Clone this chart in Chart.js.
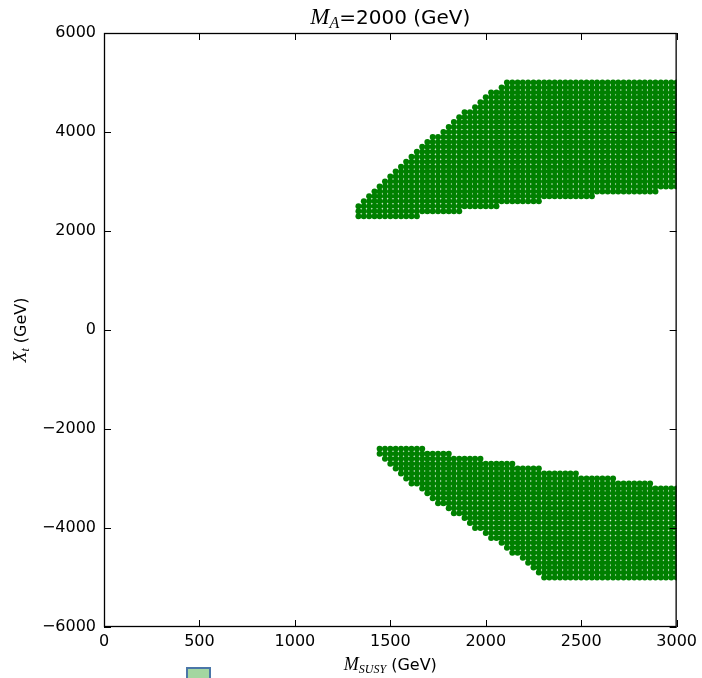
<!DOCTYPE html>
<html>
<head>
<meta charset="utf-8">
<script src="https://cdn.jsdelivr.net/npm/chart.js@4.4.1/dist/chart.umd.min.js"></script>
<style>
  html, body { margin: 0; padding: 0; background: #fff; }
</style>
</head>
<body>
<canvas id="myChart" width="702" height="678"></canvas>
<script>
// scan grid in M_SUSY (GeV), one column per value
const msusyGrid = [
  1333, 1361, 1389, 1417, 1444, 1472, 1500, 1528, 1556, 1583,
  1611, 1639, 1667, 1694, 1722, 1750, 1778, 1806, 1833, 1861,
  1889, 1917, 1944, 1972, 2000, 2028, 2056, 2083, 2111, 2139,
  2167, 2194, 2222, 2250, 2278, 2306, 2333, 2361, 2389, 2417,
  2444, 2472, 2500, 2528, 2556, 2583, 2611, 2639, 2667, 2694,
  2722, 2750, 2778, 2806, 2833, 2861, 2889, 2917, 2944, 2972,
  3000,
];
// X_t step of the scan (GeV)
const xtStep = 100;

// allowed X_t range per column, positive branch
const upperLow = [
  2300, 2300, 2300, 2300, 2300, 2300, 2300, 2300, 2300, 2300,
  2300, 2300, 2400, 2400, 2400, 2400, 2400, 2400, 2400, 2400,
  2500, 2500, 2500, 2500, 2500, 2500, 2500, 2600, 2600, 2600,
  2600, 2600, 2600, 2600, 2600, 2700, 2700, 2700, 2700, 2700,
  2700, 2700, 2700, 2700, 2700, 2800, 2800, 2800, 2800, 2800,
  2800, 2800, 2800, 2800, 2800, 2800, 2800, 2900, 2900, 2900,
  2900,
];
const upperHigh = [
  2500, 2600, 2700, 2800, 2900, 3000, 3100, 3200, 3300, 3400,
  3500, 3600, 3700, 3800, 3900, 3900, 4000, 4100, 4200, 4300,
  4400, 4400, 4500, 4600, 4700, 4800, 4800, 4900, 5000, 5000,
  5000, 5000, 5000, 5000, 5000, 5000, 5000, 5000, 5000, 5000,
  5000, 5000, 5000, 5000, 5000, 5000, 5000, 5000, 5000, 5000,
  5000, 5000, 5000, 5000, 5000, 5000, 5000, 5000, 5000, 5000,
  5000,
];

// negative branch (null = no allowed point in that column)
const lowerLow = [
  null, null, null, null, -2500, -2600, -2700, -2800, -2900, -3000,
  -3100, -3100, -3200, -3300, -3400, -3500, -3500, -3600, -3700, -3700,
  -3800, -3900, -4000, -4000, -4100, -4200, -4200, -4300, -4400, -4500,
  -4500, -4600, -4700, -4800, -4900, -5000, -5000, -5000, -5000, -5000,
  -5000, -5000, -5000, -5000, -5000, -5000, -5000, -5000, -5000, -5000,
  -5000, -5000, -5000, -5000, -5000, -5000, -5000, -5000, -5000, -5000,
  -5000,
];
const lowerHigh = [
  null, null, null, null, -2400, -2400, -2400, -2400, -2400, -2400,
  -2400, -2400, -2400, -2500, -2500, -2500, -2500, -2500, -2600, -2600,
  -2600, -2600, -2600, -2600, -2700, -2700, -2700, -2700, -2700, -2700,
  -2800, -2800, -2800, -2800, -2800, -2900, -2900, -2900, -2900, -2900,
  -2900, -2900, -3000, -3000, -3000, -3000, -3000, -3000, -3000, -3100,
  -3100, -3100, -3100, -3100, -3100, -3100, -3200, -3200, -3200, -3200,
  -3200,
];

const xTicks = [0, 500, 1000, 1500, 2000, 2500, 3000];
const yTicks = [-6000, -4000, -2000, 0, 2000, 4000, 6000];

// every scanned grid point between the low and high edge of a column
function bandPoints(lows, highs) {
  const pts = [];
  msusyGrid.forEach((m, i) => {
    if (lows[i] === null) return;
    for (let xt = lows[i]; xt <= highs[i]; xt += xtStep) {
      pts.push({ x: m, y: xt });
    }
  });
  return pts;
}

const minus = (v) => String(v).replace("-", "\u2212");
const sans = '"DejaVu Sans", sans-serif';
const serif = '"Liberation Serif", "DejaVu Serif", serif';

// draws a run of text pieces (used for the math-style labels)
function drawParts(ctx, parts, x, y, align) {
  let total = 0;
  parts.forEach((p) => {
    ctx.font = p.font;
    total += ctx.measureText(p.text).width;
  });
  let cx = align === "center" ? x - total / 2 : x;
  ctx.textAlign = "left";
  ctx.textBaseline = "alphabetic";
  parts.forEach((p) => {
    ctx.font = p.font;
    ctx.fillText(p.text, cx, y + (p.dy || 0));
    cx += ctx.measureText(p.text).width;
  });
}

const framePlugin = {
  id: "frame",
  afterDraw(chart) {
    const ctx = chart.ctx;
    const a = chart.chartArea;
    const xs = chart.scales.x;
    const ys = chart.scales.y;
    const tl = 7;
    ctx.save();
    ctx.strokeStyle = "#000";
    ctx.lineWidth = 1.3;
    ctx.strokeRect(a.left + 0.5, a.top + 0.5, a.right - a.left - 1, a.bottom - a.top - 1);

    // inward ticks on all four sides
    ctx.lineWidth = 1;
    ctx.beginPath();
    xTicks.forEach((v) => {
      const px = Math.round(xs.getPixelForValue(v)) + 0.5;
      ctx.moveTo(px, a.bottom);
      ctx.lineTo(px, a.bottom - tl);
      ctx.moveTo(px, a.top);
      ctx.lineTo(px, a.top + tl);
    });
    yTicks.forEach((v) => {
      const py = Math.round(ys.getPixelForValue(v)) + 0.5;
      ctx.moveTo(a.left, py);
      ctx.lineTo(a.left + tl, py);
      ctx.moveTo(a.right, py);
      ctx.lineTo(a.right - tl, py);
    });
    ctx.stroke();

    ctx.fillStyle = "#000";
    const mid = (a.left + a.right) / 2;
    // title
    drawParts(ctx, [
      { text: "M", font: "italic 23px " + serif },
      { text: "A", font: "italic 16px " + serif, dy: 4 },
      { text: "=2000 (GeV)", font: "20px " + sans },
    ], mid, 24, "center");

    // x axis label
    drawParts(ctx, [
      { text: "M", font: "italic 18px " + serif },
      { text: "SUSY", font: "italic 12px " + serif, dy: 3 },
      { text: " (GeV)", font: "16px " + sans },
    ], mid, 670, "center");

    // y axis label
    ctx.save();
    ctx.translate(26, (a.top + a.bottom) / 2);
    ctx.rotate(-Math.PI / 2);
    drawParts(ctx, [
      { text: "X", font: "italic 18px " + serif },
      { text: "t", font: "italic 12px " + serif, dy: 3 },
      { text: " (GeV)", font: "16px " + sans },
    ], 0, 0, "center");
    ctx.restore();

    // clipped legend patch at the bottom edge
    ctx.fillStyle = "#a3d6a0";
    ctx.strokeStyle = "#4a76a8";
    ctx.lineWidth = 2;
    ctx.fillRect(187, 668, 23, 20);
    ctx.strokeRect(187, 668, 23, 20);
    ctx.restore();
  },
};

const chartData = {
  datasets: [
    {
      label: "upper",
      data: bandPoints(upperLow, upperHigh),
      backgroundColor: "#008000",
      borderColor: "#008000",
      borderWidth: 0,
      pointRadius: 3,
      clip: 0,
    },
    {
      label: "lower",
      data: bandPoints(lowerLow, lowerHigh),
      backgroundColor: "#008000",
      borderColor: "#008000",
      borderWidth: 0,
      pointRadius: 3,
      clip: 0,
    },
  ],
};

const ctx = document.getElementById("myChart").getContext("2d");
const myChart = new Chart(ctx, {
  type: "scatter",
  data: chartData,
  plugins: [framePlugin],
  options: {
    responsive: false,
    animation: false,
    devicePixelRatio: 1,
    layout: { padding: { top: 33, right: 24, left: 0, bottom: 0 } },
    plugins: {
      legend: { display: false },
      tooltip: { enabled: false },
      title: { display: false },
    },
    scales: {
      x: {
        type: "linear",
        min: 0,
        max: 3000,
        grid: { display: false, drawTicks: false },
        border: { display: false },
        ticks: {
          stepSize: 500,
          padding: 5,
          color: "#000",
          maxRotation: 0,
          font: { family: "DejaVu Sans", size: 16 },
          callback: (v) => minus(v),
        },
        afterFit(s) { s.height = 51; },
      },
      y: {
        type: "linear",
        min: -6000,
        max: 6000,
        grid: { display: false, drawTicks: false },
        border: { display: false },
        ticks: {
          stepSize: 2000,
          padding: 8,
          color: "#000",
          font: { family: "DejaVu Sans", size: 16 },
          callback: (v) => minus(v),
        },
        afterFit(s) { s.width = 104; },
      },
    },
  },
});
</script>
</body>
</html>
